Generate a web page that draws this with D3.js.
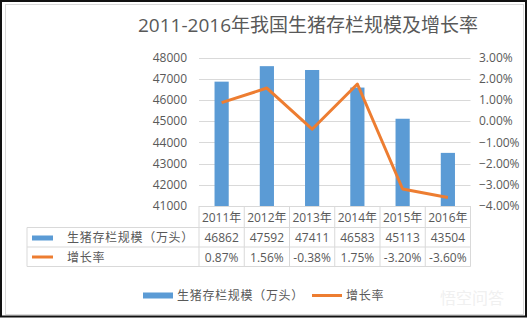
<!DOCTYPE html>
<html>
<head>
<meta charset="utf-8">
<script src="https://cdn.jsdelivr.net/npm/d3@7"></script>
<style>
  body { margin: 0; background: #fff; }
  svg { display: block; }
  text { font-family: "Open Sans", "Noto Sans CJK SC", sans-serif; fill: #595959; }
</style>
</head>
<body>
<script>
var years = ["2011年", "2012年", "2013年", "2014年", "2015年", "2016年"];
var stock = [46862, 47592, 47411, 46583, 45113, 43504];
var growth = [0.0087, 0.0156, -0.0038, 0.0175, -0.032, -0.036];
var stockLabels = ["46862", "47592", "47411", "46583", "45113", "43504"];
var growthLabels = ["0.87%", "1.56%", "-0.38%", "1.75%", "-3.20%", "-3.60%"];
var leftTicks = [41000, 42000, 43000, 44000, 45000, 46000, 47000, 48000];
var rightTicks = [-0.04, -0.03, -0.02, -0.01, 0, 0.01, 0.02, 0.03];
var seriesNames = ["生猪存栏规模（万头）", "增长率"];
var title = "2011-2016年我国生猪存栏规模及增长率";

var W = 528, H = 319;
var blue = "#5b9bd5", orange = "#ed7d31", grid = "#d9d9d9";

var svg = d3.select("body").append("svg").attr("width", W).attr("height", H);

// frames
svg.append("rect").attr("x", 1).attr("y", 1).attr("width", 525).attr("height", 315.5)
  .attr("fill", "#fff").attr("stroke", "#111").attr("stroke-width", 2);
svg.append("rect").attr("x", 5.5).attr("y", 4.5).attr("width", 518).attr("height", 310)
  .attr("fill", "none").attr("stroke", grid);

svg.append("text").attr("x", 308).attr("y", 32).attr("text-anchor", "middle")
  .style("font-size", "19px").text(title);

var x = d3.scaleBand().domain(years).range([199, 470.5]);
var yL = d3.scaleLinear().domain([41000, 48000]).range([206, 57.5]);
var yR = d3.scaleLinear().domain([-0.04, 0.03]).range([206, 57.5]);

// gridlines
svg.append("g").selectAll("line").data(leftTicks).enter().append("line")
  .attr("x1", 199).attr("x2", 470.5)
  .attr("y1", d => Math.round(yL(d)) + 0.5).attr("y2", d => Math.round(yL(d)) + 0.5)
  .attr("stroke", grid);

var leftAxis = d3.axisLeft(yL).tickValues(leftTicks).tickSize(0).tickPadding(6).tickFormat(d3.format("d"));
var gl = svg.append("g").attr("transform", "translate(193,0)").call(leftAxis);
gl.select(".domain").remove();
gl.selectAll("text").style("font-size", "12px").attr("fill", "#595959").style("font-family", null);

var rightAxis = d3.axisRight(yR).tickValues(rightTicks).tickSize(0).tickPadding(0).tickFormat(d3.format(".2%"));
var gr = svg.append("g").attr("transform", "translate(479,0)").call(rightAxis);
gr.select(".domain").remove();
gr.selectAll("text").style("font-size", "12px").attr("fill", "#595959").style("font-family", null);

// bars
var barW = x.bandwidth() / 3.19;
svg.append("g").selectAll("rect").data(stock).enter().append("rect")
  .attr("x", (d, i) => x(years[i]) + (x.bandwidth() - barW) / 2)
  .attr("y", d => yL(d))
  .attr("width", barW)
  .attr("height", d => yL(41000) - yL(d))
  .attr("fill", blue);

// line
var line = d3.line()
  .x((d, i) => x(years[i]) + x.bandwidth() / 2)
  .y(d => yR(d));
svg.append("path").datum(growth).attr("d", line)
  .attr("fill", "none").attr("stroke", orange).attr("stroke-width", 3).attr("stroke-linejoin", "round");

// data table
var rowTop = 206, rowH = [21.5, 19.5, 19.5];
var rows = [rowTop, rowTop + rowH[0], rowTop + rowH[0] + rowH[1], rowTop + rowH[0] + rowH[1] + rowH[2]];
var tbl = svg.append("g").attr("stroke", grid).attr("fill", "none");
var tx0 = 27, tx1 = 470.5;
// horizontal lines
tbl.append("line").attr("x1", 199).attr("x2", tx1).attr("y1", rows[0] + 0.5).attr("y2", rows[0] + 0.5);
[1, 2, 3].forEach(function (r) {
  tbl.append("line").attr("x1", tx0).attr("x2", tx1).attr("y1", rows[r]).attr("y2", rows[r]);
});
// vertical lines
tbl.append("line").attr("x1", tx0).attr("x2", tx0).attr("y1", rows[1]).attr("y2", rows[3]);
years.concat(["end"]).forEach(function (yr, i) {
  var xx = i < years.length ? x(yr) : tx1;
  tbl.append("line").attr("x1", xx).attr("x2", xx).attr("y1", rows[0]).attr("y2", rows[3]);
});

var cell = svg.append("g").style("font-size", "12px").attr("text-anchor", "middle");
years.forEach(function (yr, i) {
  var cx = x(yr) + x.bandwidth() / 2;
  cell.append("text").attr("x", cx).attr("y", rows[0] + 15.5).text(yr);
  cell.append("text").attr("x", cx).attr("y", rows[1] + 14.5).text(stockLabels[i]);
  cell.append("text").attr("x", cx).attr("y", rows[2] + 14.5).text(growthLabels[i]);
});

// table legend keys
svg.append("rect").attr("x", 32).attr("y", rows[1] + 8).attr("width", 21).attr("height", 5).attr("fill", blue);
svg.append("text").attr("x", 67).attr("y", rows[1] + 14.5).style("font-size", "12px")
  .style("letter-spacing", "0.7px").text(seriesNames[0]);
svg.append("line").attr("x1", 32).attr("x2", 53).attr("y1", rows[2] + 10).attr("y2", rows[2] + 10)
  .attr("stroke", orange).attr("stroke-width", 3);
svg.append("text").attr("x", 67).attr("y", rows[2] + 14.5).style("font-size", "12px")
  .style("letter-spacing", "0.7px").text(seriesNames[1]);

// bottom legend
var lg = svg.append("g");
lg.append("rect").attr("x", 143).attr("y", 292.5).attr("width", 30).attr("height", 6).attr("fill", blue);
lg.append("text").attr("x", 177).attr("y", 300).style("font-size", "12px")
  .style("letter-spacing", "0.7px").text(seriesNames[0]);
lg.append("line").attr("x1", 312).attr("x2", 342).attr("y1", 295.5).attr("y2", 295.5)
  .attr("stroke", orange).attr("stroke-width", 3);
lg.append("text").attr("x", 346).attr("y", 300).style("font-size", "12px")
  .style("letter-spacing", "0.7px").text(seriesNames[1]);

// watermark
svg.append("text").attr("x", 472).attr("y", 304).attr("text-anchor", "middle")
  .style("font-size", "16px").style("fill", "#f0f0f0").text("悟空问答");
</script>
</body>
</html>
